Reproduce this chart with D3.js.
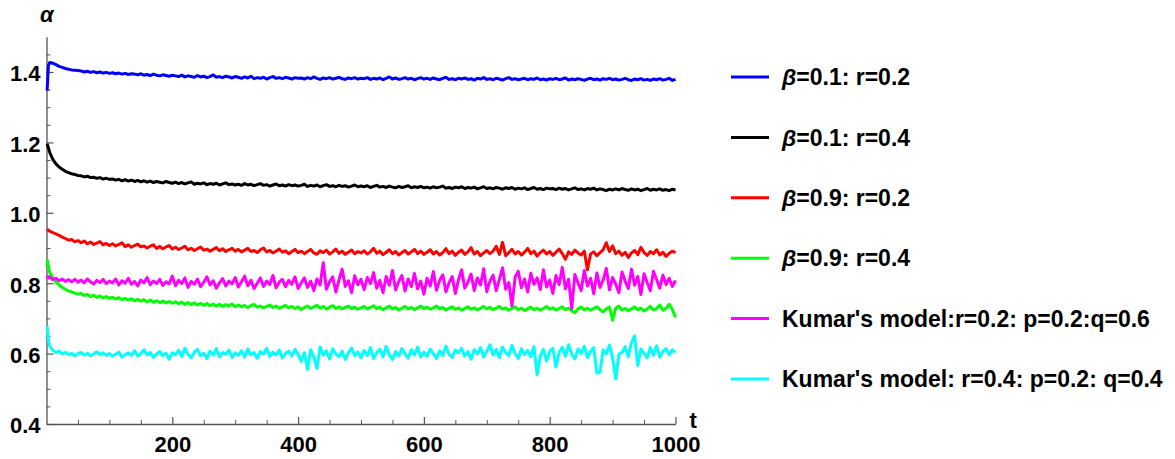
<!DOCTYPE html>
<html><head><meta charset="utf-8">
<script src="https://cdn.jsdelivr.net/npm/d3@7"></script>
<style>
body{margin:0;background:#fff}
svg text{font-family:"Liberation Sans",Arial,sans-serif;font-weight:bold;fill:#000}
</style>
</head><body><svg id="c" width="1175" height="459"></svg>
<script>
// time steps: t = 1, 3, then every 5 up to 1000
const times = [1, 3].concat(d3.range(5, 1001, 5));

const blueVals = [1.347,1.418,1.427,1.425,1.421,1.416,1.413,1.410,1.408,1.406,1.405,1.404,
1.403,1.400,1.402,1.399,1.401,1.398,1.400,1.397,1.399,1.396,
1.398,1.395,1.397,1.394,1.396,1.393,1.395,1.394,1.392,1.395,1.391,1.393,1.390,1.394,1.391,1.389,1.392,1.390,1.388,1.391,
1.389,1.387,1.391,1.386,1.389,1.387,1.385,1.390,1.386,1.388,1.384,1.387,1.392,1.385,1.387,1.384,1.388,1.386,1.383,1.387,
1.385,1.382,1.386,1.383,1.388,1.381,1.384,1.382,1.385,1.380,1.384,1.387,1.382,1.384,1.381,1.385,1.383,1.380,1.384,1.382,
1.383,1.380,1.384,1.381,1.386,1.382,1.379,1.383,1.381,1.384,1.380,1.382,1.385,1.381,1.379,1.383,1.381,1.384,1.380,1.382,
1.381,1.384,1.379,1.382,1.380,1.383,1.378,1.382,1.386,1.380,1.383,1.379,1.381,1.384,1.380,1.382,1.378,1.381,1.384,1.380,
1.382,1.379,1.383,1.380,1.378,1.382,1.385,1.379,1.381,1.378,1.382,1.380,1.383,1.379,1.381,1.377,1.382,1.380,1.384,1.379,
1.381,1.378,1.382,1.380,1.377,1.381,1.384,1.379,1.381,1.378,1.380,1.382,1.378,1.381,1.379,1.383,1.378,1.380,1.377,1.381,
1.379,1.382,1.378,1.380,1.383,1.377,1.380,1.378,1.381,1.379,1.376,1.380,1.382,1.378,1.380,1.377,1.381,1.379,1.382,1.378,
1.380,1.377,1.379,1.382,1.378,1.376,1.380,1.378,1.381,1.377,1.379,1.376,1.380,1.378,1.381,1.377,1.379,1.382,1.376,1.379];

const blackVals = [1.196,1.185,1.172,1.152,1.139,1.130,1.124,1.118,1.114,1.111,1.109,1.106,
1.105,1.102,1.104,1.100,1.101,1.098,1.100,1.096,1.098,1.095,
1.096,1.093,1.095,1.091,1.094,1.090,1.093,1.089,1.092,1.088,1.091,1.087,1.090,1.086,1.089,1.087,1.085,1.089,1.086,1.084,
1.087,1.083,1.086,1.082,1.085,1.088,1.081,1.084,1.082,1.085,1.080,1.083,1.081,1.084,1.079,1.082,1.085,1.080,1.082,1.079,
1.081,1.078,1.083,1.079,1.081,1.077,1.080,1.083,1.078,1.080,1.076,1.079,1.082,1.077,1.079,1.076,1.080,1.077,1.079,1.076,
1.078,1.081,1.075,1.078,1.076,1.079,1.074,1.077,1.080,1.075,1.077,1.074,1.078,1.075,1.077,1.073,1.076,1.079,1.074,1.076,
1.074,1.077,1.072,1.075,1.078,1.073,1.075,1.072,1.076,1.073,1.071,1.075,1.072,1.074,1.077,1.071,1.074,1.072,1.075,1.071,
1.073,1.070,1.074,1.071,1.073,1.076,1.070,1.072,1.069,1.073,1.071,1.074,1.069,1.072,1.070,1.073,1.068,1.071,1.074,1.069,
1.071,1.068,1.072,1.070,1.067,1.071,1.069,1.072,1.067,1.070,1.068,1.071,1.066,1.069,1.072,1.067,1.069,1.066,1.070,1.068,
1.069,1.066,1.070,1.067,1.069,1.065,1.068,1.071,1.066,1.068,1.065,1.069,1.067,1.070,1.065,1.068,1.066,1.063,1.067,1.065,
1.068,1.065,1.069,1.066,1.064,1.068,1.065,1.067,1.063,1.066,1.069,1.064,1.067,1.065,1.068,1.064,1.066,1.063,1.067,1.065];

const redVals = [0.953,0.951,0.948,0.944,0.940,0.936,0.931,0.927,0.922,0.924,0.918,0.921,
0.915,0.920,0.912,0.917,0.910,0.914,0.918,0.909,0.913,0.907,
0.912,0.906,0.910,0.915,0.904,0.909,0.902,0.907,0.911,0.903,0.906,0.900,0.905,0.909,0.899,0.904,0.898,0.903,0.907,0.897,
0.902,0.896,0.900,0.905,0.895,0.899,0.893,0.898,0.903,0.894,0.897,0.891,0.896,0.901,0.892,0.898,0.890,0.895,0.899,0.891,
0.896,0.889,0.894,0.899,0.890,0.893,0.887,0.895,0.900,0.889,0.893,0.886,0.891,0.897,0.888,0.892,0.884,0.890,0.896,0.887,
0.891,0.884,0.890,0.896,0.886,0.882,0.892,0.887,0.894,0.883,0.889,0.897,0.885,0.891,0.882,0.888,0.894,0.884,0.890,0.886,
0.892,0.883,0.889,0.899,0.885,0.891,0.881,0.888,0.895,0.884,0.890,0.880,0.887,0.893,0.883,0.889,0.896,0.884,0.891,0.882,
0.888,0.895,0.883,0.890,0.880,0.887,0.898,0.884,0.891,0.879,0.888,0.894,0.882,0.889,0.901,0.883,0.890,0.878,0.886,0.893,
0.884,0.891,0.905,0.882,0.916,0.878,0.887,0.896,0.883,0.890,0.880,0.888,0.899,0.884,0.891,0.877,0.887,0.894,0.883,0.890,
0.879,0.888,0.897,0.884,0.868,0.889,0.882,0.894,0.886,0.880,0.891,0.838,0.883,0.889,0.878,0.887,0.895,0.915,0.890,0.906,
0.884,0.891,0.879,0.888,0.873,0.886,0.893,0.881,0.902,0.887,0.879,0.890,0.884,0.895,0.880,0.888,0.876,0.885,0.891,0.887];

const greenVals = [0.868,0.845,0.832,0.815,0.803,0.795,0.788,0.783,0.778,0.775,0.772,0.769,
0.771,0.765,0.768,0.762,0.766,0.760,0.764,0.758,0.762,0.757,
0.760,0.755,0.759,0.753,0.757,0.752,0.756,0.750,0.754,0.749,0.753,0.747,0.752,0.746,0.750,0.745,0.749,0.744,0.748,0.743,
0.747,0.742,0.746,0.740,0.745,0.739,0.744,0.738,0.743,0.737,0.742,0.736,0.741,0.735,0.740,0.734,0.739,0.736,0.741,0.733,
0.738,0.733,0.737,0.731,0.736,0.740,0.732,0.735,0.730,0.734,0.738,0.731,0.735,0.729,0.733,0.737,0.730,0.734,0.728,0.733,
0.725,0.731,0.735,0.728,0.733,0.737,0.729,0.734,0.726,0.732,0.736,0.728,0.733,0.727,0.731,0.735,0.728,0.732,0.726,0.730,
0.734,0.727,0.731,0.736,0.728,0.732,0.725,0.730,0.735,0.727,0.731,0.724,0.729,0.734,0.727,0.731,0.725,0.730,0.735,0.728,
0.732,0.726,0.730,0.735,0.727,0.731,0.724,0.729,0.733,0.726,0.730,0.723,0.728,0.733,0.726,0.730,0.724,0.729,0.734,0.727,
0.731,0.725,0.729,0.734,0.726,0.730,0.723,0.728,0.733,0.725,0.729,0.722,0.727,0.732,0.725,0.729,0.723,0.728,0.734,0.726,
0.730,0.724,0.728,0.733,0.725,0.729,0.722,0.716,0.727,0.732,0.724,0.729,0.723,0.728,0.733,0.725,0.718,0.727,0.732,0.695,
0.729,0.735,0.724,0.728,0.722,0.727,0.733,0.725,0.729,0.721,0.727,0.734,0.724,0.728,0.738,0.723,0.729,0.740,0.725,0.703];

const magentaVals = [0.822,0.815,0.818,0.810,0.814,0.807,0.812,0.805,0.810,0.804,0.811,0.803,
0.809,0.801,0.812,0.804,0.798,0.808,0.802,0.811,0.799,0.806,
0.801,0.812,0.795,0.807,0.800,0.814,0.797,0.805,0.792,0.809,0.801,0.816,0.796,0.806,0.799,0.811,0.794,0.804,0.798,0.820,
0.793,0.808,0.799,0.815,0.788,0.805,0.797,0.812,0.790,0.803,0.818,0.795,0.807,0.786,0.801,0.813,0.792,0.806,0.798,0.816,
0.789,0.804,0.820,0.793,0.808,0.785,0.800,0.815,0.791,0.806,0.796,0.822,0.787,0.803,0.811,0.790,0.808,0.797,0.818,0.785,
0.801,0.815,0.788,0.806,0.779,0.812,0.795,0.858,0.783,0.804,0.818,0.775,0.809,0.840,0.791,0.807,0.773,0.821,0.796,0.811,
0.782,0.816,0.799,0.830,0.786,0.808,0.773,0.819,0.794,0.836,0.781,0.805,0.822,0.778,0.812,0.790,0.828,0.784,0.806,0.769,
0.814,0.792,0.833,0.780,0.808,0.824,0.776,0.801,0.819,0.771,0.810,0.838,0.786,0.803,0.826,0.779,0.815,0.795,0.841,0.776,
0.806,0.823,0.779,0.811,0.844,0.783,0.802,0.735,0.817,0.834,0.787,0.812,0.775,0.828,0.797,0.815,0.782,0.838,0.789,0.809,
0.771,0.822,0.796,0.845,0.784,0.811,0.728,0.825,0.801,0.779,0.836,0.792,0.814,0.770,0.829,0.788,0.809,0.842,0.781,0.816,
0.797,0.773,0.832,0.806,0.785,0.840,0.794,0.819,0.768,0.827,0.802,0.779,0.834,0.810,0.786,0.823,0.796,0.814,0.791,0.808];

const cyanVals = [0.678,0.640,0.622,0.610,0.603,0.607,0.599,0.604,0.597,0.601,0.594,0.600,
0.603,0.596,0.601,0.594,0.599,0.605,0.597,0.602,0.595,0.600,
0.593,0.598,0.604,0.590,0.597,0.602,0.595,0.608,0.593,0.600,0.611,0.596,0.603,0.589,0.599,0.606,0.594,0.601,0.584,0.602,
0.597,0.609,0.592,0.615,0.598,0.588,0.604,0.612,0.594,0.601,0.586,0.607,0.596,0.614,0.591,0.603,0.598,0.610,0.589,0.602,
0.595,0.608,0.590,0.613,0.597,0.603,0.587,0.606,0.599,0.615,0.592,0.604,0.596,0.610,0.588,0.601,0.607,0.593,0.612,0.598,
0.578,0.603,0.555,0.611,0.590,0.558,0.619,0.596,0.608,0.585,0.614,0.599,0.591,0.607,0.583,0.602,0.616,0.594,0.605,0.588,
0.609,0.594,0.617,0.586,0.603,0.612,0.591,0.620,0.597,0.583,0.606,0.593,0.614,0.600,0.587,0.611,0.596,0.618,0.590,0.604,
0.592,0.613,0.600,0.586,0.608,0.595,0.621,0.598,0.589,0.610,0.603,0.615,0.593,0.606,0.584,0.611,0.599,0.617,0.590,0.607,
0.625,0.596,0.612,0.588,0.619,0.603,0.594,0.623,0.600,0.586,0.614,0.597,0.609,0.591,0.620,0.540,0.593,0.612,0.579,0.606,
0.615,0.562,0.603,0.618,0.592,0.625,0.598,0.585,0.613,0.600,0.621,0.589,0.606,0.617,0.545,0.547,0.611,0.599,0.624,0.587,
0.528,0.598,0.603,0.619,0.591,0.632,0.650,0.566,0.613,0.601,0.588,0.617,0.595,0.622,0.590,0.606,0.614,0.597,0.611,0.603];

const seriesLabels = ["β=0.1: r=0.2","β=0.1: r=0.4","β=0.9: r=0.2","β=0.9: r=0.4",
  "Kumar's model:r=0.2: p=0.2:q=0.6","Kumar's model: r=0.4: p=0.2: q=0.4"];
const seriesValues = [blueVals, blackVals, redVals, greenVals, magentaVals, cyanVals];
const seriesColors = ["#0000ff","#000000","#ff0000","#00ff00","#ff00ff","#00ffff"];

const xMajorTicks = [200,400,600,800,1000];
const yMajorTicks = [0.4,0.6,0.8,1.0,1.2,1.4];

const svg = d3.select("#c");
const x = d3.scaleLinear().domain([0,1000]).range([46.5,675.5]);
const y = d3.scaleLinear().domain([0.4,1.5]).range([424,36.8]);

// minor ticks
const xMinor = d3.range(50,1001,50).filter(v=>!xMajorTicks.includes(v));
const yMinor = d3.range(0.45,1.5,0.05).filter(v=>!yMajorTicks.some(m=>Math.abs(m-v)<1e-6));

svg.append("g").attr("transform","translate(0,424)")
  .call(d3.axisBottom(x).tickValues(xMinor).tickSize(-4).tickFormat(""))
  .call(g=>g.select(".domain").remove())
  .selectAll("line").attr("stroke","#555");
svg.append("g").attr("transform","translate(46.5,0)")
  .call(d3.axisLeft(y).tickValues(yMinor).tickSize(-4).tickFormat(""))
  .call(g=>g.select(".domain").remove())
  .selectAll("line").attr("stroke","#555");

const xAxis = svg.append("g").attr("transform","translate(0,424)")
  .call(d3.axisBottom(x).tickValues(xMajorTicks).tickSizeInner(-7).tickSizeOuter(0).tickPadding(12).tickFormat(d3.format("d")));
const yAxis = svg.append("g").attr("transform","translate(46.5,0)")
  .call(d3.axisLeft(y).tickValues(yMajorTicks).tickSizeInner(-7).tickSizeOuter(0).tickPadding(6).tickFormat(d3.format(".1f")));
[xAxis,yAxis].forEach(a=>{
  a.select(".domain").attr("stroke","#555").attr("stroke-width",1.3);
  a.selectAll("line").attr("stroke","#555").attr("stroke-width",1.2);
  a.selectAll("text").attr("fill","#000").style("font-size","22px").style("font-family","'Liberation Sans',Arial,sans-serif").style("font-weight","bold");
});
yAxis.selectAll("text").attr("dy","0.4em");

// axis labels
svg.append("text").attr("x",x(1000)+14).attr("y",428).style("font-size","22px").text("t");
svg.append("text").attr("x",40).attr("y",22).style("font-size","22px").style("font-style","italic").text("α");

// series
const line = d3.line().x((d,i)=>x(times[i])).y(d=>y(d));
seriesValues.forEach((vals,k)=>{
  svg.append("path").datum(vals).attr("fill","none")
    .attr("stroke",seriesColors[k]).attr("stroke-width",3)
    .attr("stroke-linejoin","round").attr("d",line);
});

// legend
const leg = svg.append("g");
seriesLabels.forEach((lab,k)=>{
  const yy = 77 + k*60.4;
  leg.append("line").attr("x1",731).attr("x2",769).attr("y1",yy).attr("y2",yy)
    .attr("stroke",seriesColors[k]).attr("stroke-width",3);
  const t = leg.append("text").attr("x",782).attr("y",yy).attr("dy","0.36em").style("font-size","23px");
  if (lab.startsWith("β")) {
    t.append("tspan").style("font-style","italic").text("β");
    t.append("tspan").text(lab.slice(1));
  } else {
    t.text(lab);
  }
});
</script>
</body></html>
